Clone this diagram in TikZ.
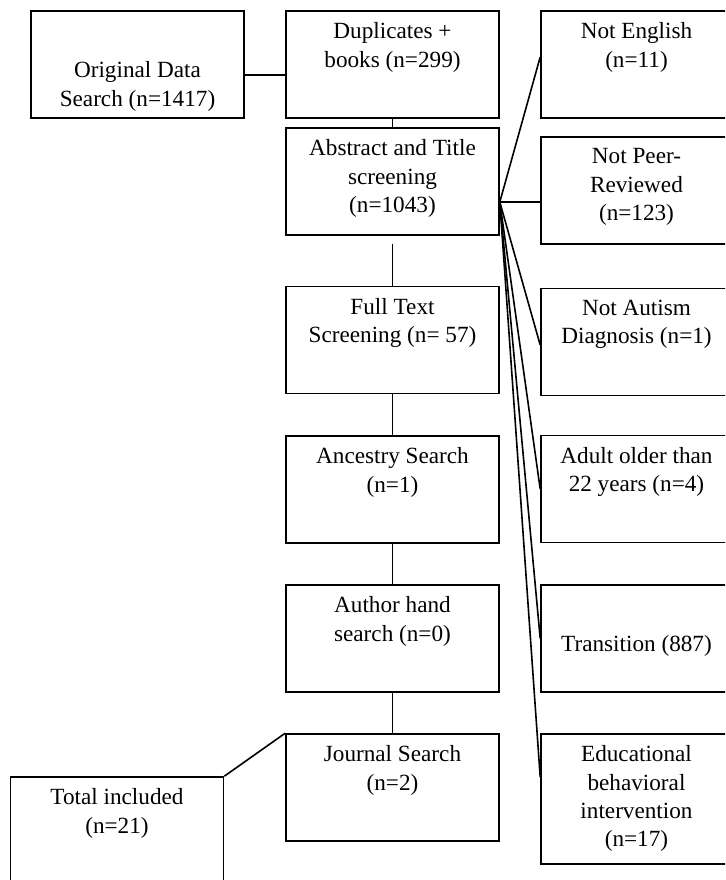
\documentclass[tikz,border=0pt]{standalone}
\usepackage{fontspec}
\setmainfont{Liberation Serif}
\usepackage{tikz}
\usetikzlibrary{positioning}

\begin{document}
\begin{tikzpicture}[
 x=0.5pt,y=-0.5pt,
 box/.style={draw,line width=0.8pt,minimum width=106.5pt,minimum height=53.5pt,inner sep=0pt},
 ex/.style={box,minimum width=95.5pt},
 txt/.style={anchor=north,yshift=-6pt,align=center,inner sep=0pt,font=\fontsize{11.6}{14.2}\selectfont},
 low/.style={txt,yshift=-19.5pt},
 ln/.style={line width=0.8pt}
]
\useasboundingbox (0,0) rectangle (725,880);
\clip (0,0) rectangle (725,880);
% search column
\node[box,label={[low]north:{Original Data\\Search (n=1417)}}] (orig) at (137.5,64.5) {};
\node[box,label={[txt]north:{Duplicates +\\books (n=299)}}] (dup) at (392.5,64.5) {};
\node[box,label={[txt]north:{Abstract and Title\\screening\\(n=1043)}}] (abs) at (392.5,181.5) {};
\node[box,label={[txt]north:{Full Text\\Screening (n= 57)}}] (full) at (392.5,340) {};
\node[box,label={[txt]north:{Ancestry Search\\(n=1)}}] (anc) at (392.5,489.5) {};
\node[box,label={[txt]north:{Author hand\\search (n=0)}}] (auth) at (392.5,638.5) {};
\node[box,label={[txt]north:{Journal Search\\(n=2)}}] (jour) at (392.5,787.5) {};
\node[box,label={[txt]north:{Total included\\(n=21)}}] (total) at (117,830.5) {};
% excluded column
\node[ex,label={[txt]north:{Not English\\(n=11)}}] (eng) at (636.5,64.5) {};
\node[ex,label={[txt]north:{Not Peer-\\Reviewed\\(n=123)}}] (peer) at (636.5,190.5) {};
\node[ex,label={[txt]north:{Not Autism\\Diagnosis (n=1)}}] (aut) at (636.5,342) {};
\node[ex,label={[txt]north:{Adult older than\\22 years (n=4)}}] (adult) at (636.5,489) {};
\node[ex,label={[low]north:{Transition (887)}}] (trans) at (636.5,638.5) {};
\node[ex,minimum height=65pt,label={[txt]north:{Educational\\behavioral\\intervention\\(n=17)}}] (edu) at (636.5,799) {};
% connectors
\coordinate (fan) at ([yshift=-10.25pt]abs.east);
\draw[ln] ([yshift=-5.25pt]orig.east) -- ([yshift=-5.25pt]dup.west);
\draw[ln] (dup.south) -- (abs.north);
\draw[ln] ([yshift=-4pt]abs.south) -- (full.north);
\draw[ln] (full) -- (anc);
\draw[ln] (anc) -- (auth);
\draw[ln] (auth) -- (jour);
\draw[ln] (total.north east) -- (jour.north west);
\draw[ln] (fan) -- ([yshift=3.75pt]eng.west);
\draw[ln] (fan) -- ([yshift=-5.75pt]peer.west);
\draw[ln] (fan) -- ([yshift=-1.5pt]aut.west);
\draw[ln] (fan) -- (adult.west);
\draw[ln] (fan) -- (trans.west);
\draw[ln] (fan) -- ([yshift=11pt]edu.west);
\end{tikzpicture}
\end{document}
